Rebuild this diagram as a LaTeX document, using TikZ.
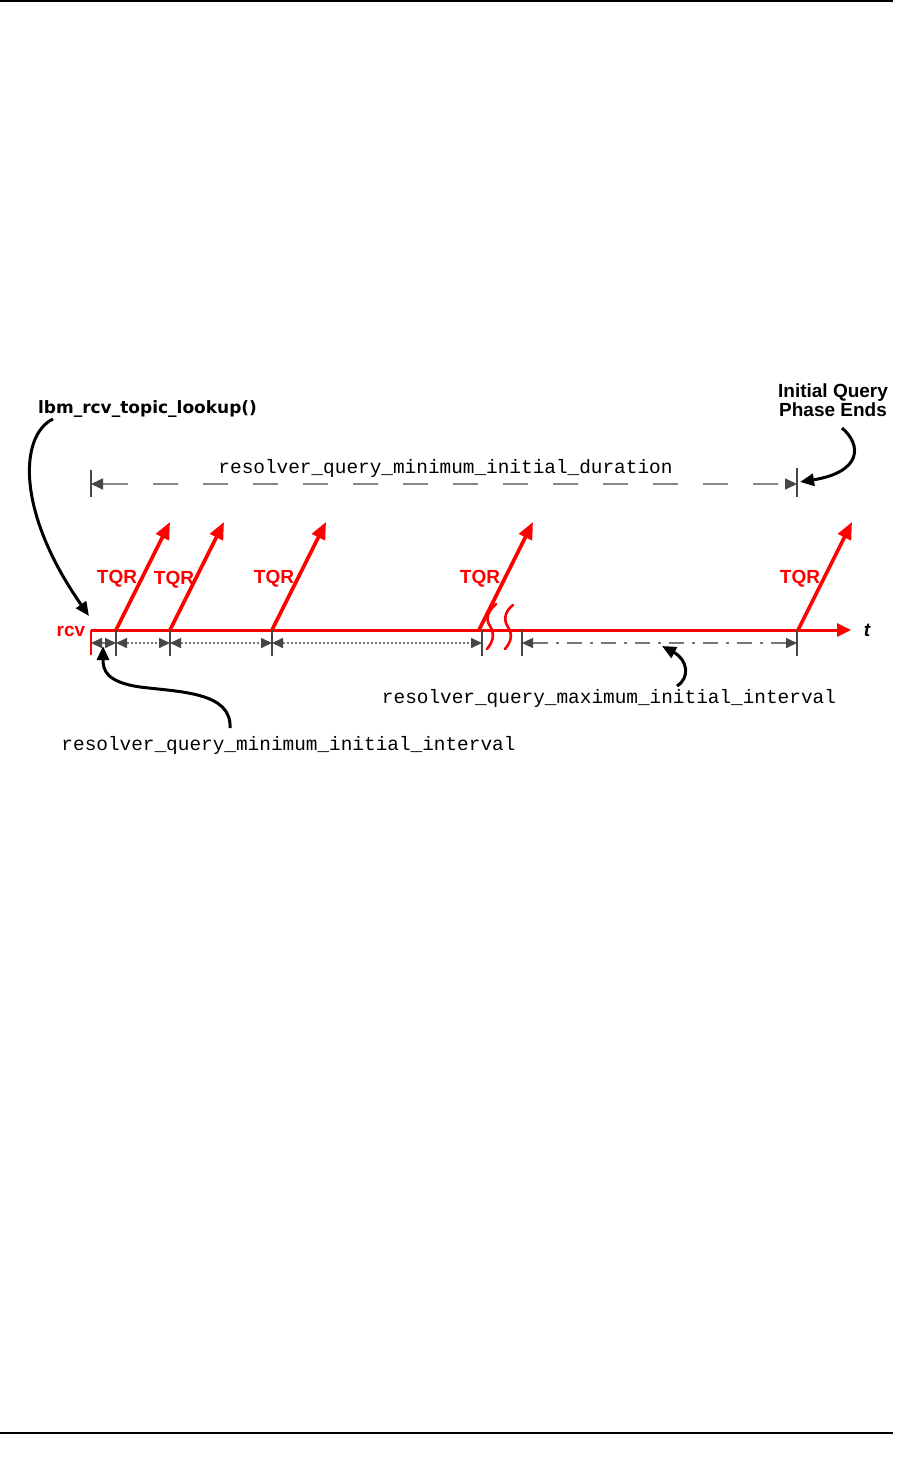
\documentclass[tikz,border=0pt]{standalone}
\usepackage{fontspec}
\setmainfont{Liberation Sans}
\setmonofont{Liberation Mono}
\newfontfamily\dvbold{DejaVu Sans}[BoldFont={DejaVu Sans Bold}]
\usetikzlibrary{arrows.meta}
\definecolor{dimtip}{RGB}{70,70,70}
\definecolor{dimline}{RGB}{120,120,120}
\definecolor{topline}{RGB}{135,135,135}
\begin{document}
\begin{tikzpicture}[x=1pt,y=-1pt,
  lbl/.style={font=\fontsize{19}{21}\selectfont\bfseries, inner sep=0pt},
  redlbl/.style={lbl, text=red},
  mono/.style={font=\fontsize{19.4}{22}\selectfont\ttfamily, inner sep=0pt},
  tl/.style={red, line width=3pt},
  tqr/.style={red, line width=3.6pt, -{Triangle[length=17pt,width=14pt]}},
  callout/.style={black, line width=3pt, -{Triangle[length=14pt,width=12pt]}},
  dimtips/.style={{Triangle[length=11pt,width=10pt,color=dimtip]}-{Triangle[length=11pt,width=10pt,color=dimtip]}},
  dimsolid/.style={dimline, line width=1.6pt, dimtips},
  dimdot/.style={dimline, line width=1.6pt, dash pattern=on 2pt off 2pt, dimtips},
  dimdashdot/.style={dimline, line width=1.6pt, dash pattern=on 15pt off 8pt on 3pt off 8pt, dimtips},
  dimdash/.style={topline, line width=1.6pt, dash pattern=on 25pt off 25pt,
     {Triangle[length=12pt,width=11pt,color=dimtip]}-{Triangle[length=12pt,width=11pt,color=dimtip]}},
  dtick/.style={dimtip, line width=1.6pt},
  brk/.style={red, line width=2.6pt, line cap=round},
]
\useasboundingbox (0,0) rectangle (908,1463);
% page rules
\coordinate (pt0) at (0,1); \coordinate (pt1) at (893,1);
\coordinate (pb0) at (0,1433); \coordinate (pb1) at (893,1433);
\draw[line width=2pt] (pt0) -- (pt1);
\draw[line width=2pt] (pb0) -- (pb1);

% time line
\coordinate (r0) at (91,630);
\coordinate (rdown) at (91,655);
\coordinate (tend) at (851,630);
\draw[red, line width=2.2pt] (rdown) -- (r0);
\draw[tl, -{Triangle[length=14pt,width=13pt]}] (r0) -- (tend);
\node[redlbl, anchor=base] (rcv) at (71,636) {rcv};
\node[font=\fontsize{19}{21}\selectfont\bfseries\itshape, inner sep=0pt, anchor=base] (t) at (867,636) {t};

% TQR arrows
\foreach \i/\x in {1/116,2/170,3/272,4/479,5/798}{
  \coordinate (b\i) at (\x,630);
  \coordinate (a\i) at ({\x+54},522);
  \draw[tqr] (b\i) -- (a\i);
}
\node[redlbl, anchor=base] (q1) at (117,583) {TQR};
\node[redlbl, anchor=base] (q2) at (174,584) {TQR};
\node[redlbl, anchor=base] (q3) at (274,583) {TQR};
\node[redlbl, anchor=base] (q4) at (480,583) {TQR};
\node[redlbl, anchor=base] (q5) at (800,583) {TQR};

% break marks
\coordinate (s1a) at (496,604); \coordinate (s1m) at (490,626); \coordinate (s1b) at (487,649);
\coordinate (s2a) at (513,605); \coordinate (s2m) at (508,627); \coordinate (s2b) at (505,649);
\draw[brk] (s1a) .. controls (488,611) and (485,619) .. (s1m) .. controls (495,634) and (493,642) .. (s1b);
\draw[brk] (s2a) .. controls (505,611) and (503,620) .. (s2m) .. controls (513,635) and (511,642) .. (s2b);

% lower ticks and dimension lines
\foreach \n/\x in {k1/116,k2/170,k3/272,k4/482,k5/522,k6/797}{
  \coordinate (\n t) at (\x,630);
  \coordinate (\n b) at (\x,656);
  \coordinate (\n) at (\x,643);
  \draw[dtick] (\n t) -- (\n b);
}
\coordinate (k0) at (91,643);
\draw[dimsolid] (k0) -- (k1);
\draw[dimdot] (k1) -- (k2);
\draw[dimdot] (k2) -- (k3);
\draw[dimdot] (k3) -- (k4);
\draw[dimdashdot] (k5) -- (k6);

% top dimension line
\coordinate (d0t) at (91,470); \coordinate (d0b) at (91,497);
\coordinate (d1t) at (797,468); \coordinate (d1b) at (797,497);
\coordinate (d0) at (91,484); \coordinate (d1) at (797,484);
\draw[dtick] (d0t) -- (d0b);
\draw[dtick] (d1t) -- (d1b);
\draw[dimdash] (d0) -- (d1);

% texts
\node[mono, anchor=base] (dur) at (445.5,473) {resolver\_query\_minimum\_initial\_duration};
\node[mono, anchor=base] (maxi) at (609,703) {resolver\_query\_maximum\_initial\_interval};
\node[mono, anchor=base] (mini) at (288.5,750) {resolver\_query\_minimum\_initial\_interval};
\node[font=\fontsize{17}{20}\selectfont\dvbold\bfseries, inner sep=0pt, anchor=base] (lbm) at (147.5,413) {lbm\_rcv\_topic\_lookup()};
\node[lbl, align=center, font=\fontsize{19}{19}\selectfont\bfseries, anchor=base] (iq) at (833,416) {Initial Query\\Phase Ends};

% callouts
\coordinate (c1s) at (53,419); \coordinate (c1e) at (89,616);
\draw[callout] (c1s) .. controls (20,435) and (15,510) .. (c1e);
\coordinate (c2s) at (230,728); \coordinate (c2m) at (140,687); \coordinate (c2e) at (103,646);
\draw[callout] (c2s) .. controls (232,692) and (180,692) .. (c2m) .. controls (106,682) and (103,670) .. (c2e);
\coordinate (c3s) at (842,428); \coordinate (c3e) at (800,482);
\draw[callout] (c3s) .. controls (862,445) and (862,472) .. (c3e);
\coordinate (c4s) at (677,686); \coordinate (c4e) at (662,646);
\draw[callout] (c4s) .. controls (690,678) and (688,660) .. (c4e);
\end{tikzpicture}
\end{document}
